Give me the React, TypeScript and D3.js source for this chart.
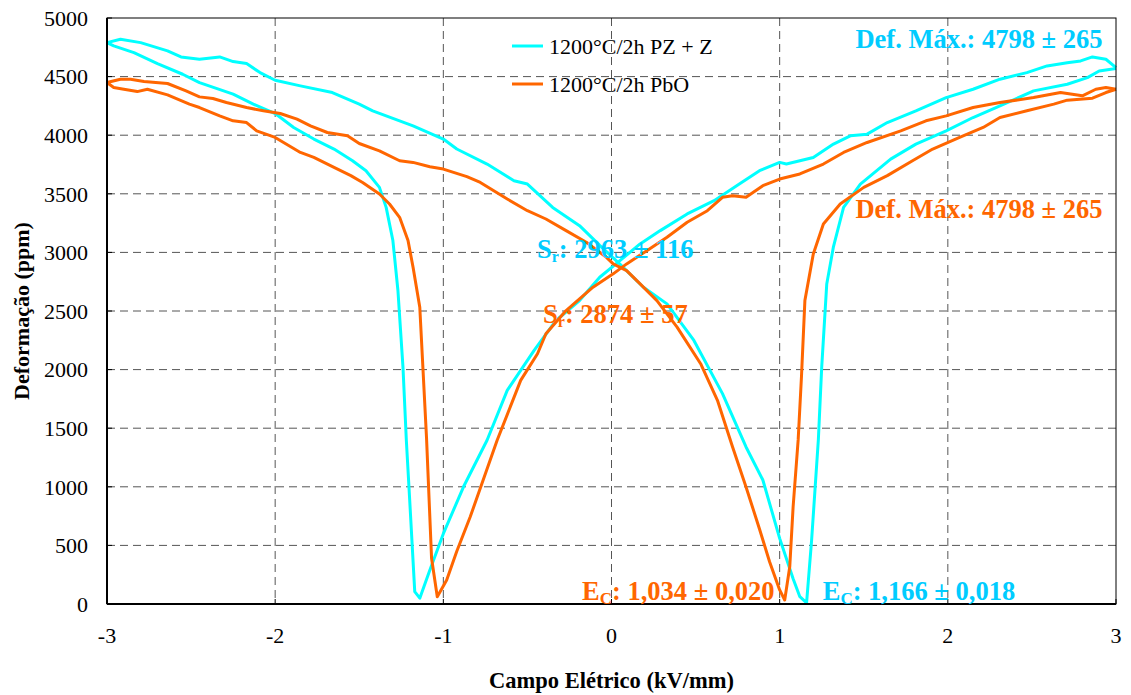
import * as d3 from 'd3';

// Butterfly loops as [field kV/mm, strain ppm]
// branch "down": field swept from +3 to -3; branch "up": from -3 to +3
const pzzDown: [number, number][] = [
  [3.0, 4577], [2.94, 4648], [2.86, 4668], [2.79, 4634], [2.71, 4619], [2.59, 4591],
  [2.47, 4534], [2.31, 4478], [2.15, 4392], [1.99, 4321], [1.81, 4208], [1.64, 4108],
  [1.52, 4009], [1.42, 3995], [1.32, 3924], [1.2, 3810], [1.04, 3754], [1.0, 3768],
  [0.88, 3697], [0.76, 3583], [0.61, 3441], [0.45, 3328], [0.29, 3186], [0.17, 3072],
  [0.05, 2930], [-0.07, 2788], [-0.19, 2589], [-0.33, 2419], [-0.46, 2164],
  [-0.62, 1823], [-0.74, 1397], [-0.88, 1000], [-1.0, 600], [-1.08, 290], [-1.14, 50],
  [-1.17, 105], [-1.2, 886], [-1.22, 1397], [-1.24, 2021], [-1.27, 2675], [-1.3, 3101],
  [-1.34, 3384], [-1.38, 3555], [-1.46, 3697], [-1.54, 3782], [-1.65, 3882],
  [-1.77, 3967], [-1.89, 4066], [-2.0, 4185], [-2.13, 4265], [-2.25, 4350],
  [-2.45, 4449], [-2.55, 4520], [-2.7, 4611], [-2.84, 4705], [-2.96, 4762], [-3.0, 4790],
];

const pzzUp: [number, number][] = [
  [-3.0, 4790], [-2.92, 4818], [-2.8, 4790], [-2.64, 4719], [-2.56, 4668], [-2.45, 4648],
  [-2.33, 4668], [-2.25, 4628], [-2.17, 4611], [-2.09, 4534], [-2.0, 4469], [-1.85, 4421],
  [-1.66, 4364], [-1.5, 4265], [-1.42, 4208], [-1.26, 4123], [-1.18, 4080], [-1.0, 3967],
  [-0.92, 3882], [-0.74, 3754], [-0.58, 3612], [-0.5, 3583], [-0.35, 3384], [-0.19, 3228],
  [-0.07, 3060], [0.05, 2900], [0.19, 2703], [0.33, 2561], [0.49, 2249], [0.66, 1795],
  [0.8, 1340], [0.9, 1058], [1.0, 560], [1.08, 215], [1.12, 62], [1.16, 10],
  [1.19, 546], [1.21, 973], [1.23, 1400], [1.25, 2021], [1.28, 2731], [1.32, 3050],
  [1.38, 3384], [1.48, 3583], [1.66, 3796], [1.81, 3924], [1.99, 4037], [2.15, 4151],
  [2.31, 4250], [2.51, 4378], [2.71, 4435], [2.83, 4491], [2.9, 4548], [3.0, 4570],
];

const pboDown: [number, number][] = [
  [3.0, 4392], [2.94, 4407], [2.88, 4392], [2.8, 4336], [2.67, 4364], [2.51, 4321],
  [2.31, 4279], [2.15, 4236], [1.99, 4165], [1.87, 4123], [1.72, 4037], [1.52, 3938],
  [1.38, 3853], [1.26, 3754], [1.12, 3669], [1.0, 3626], [0.9, 3569], [0.8, 3470],
  [0.72, 3484], [0.66, 3470], [0.57, 3356], [0.45, 3257], [0.33, 3129], [0.21, 3015],
  [0.09, 2902], [0.01, 2817], [-0.11, 2703], [-0.27, 2504], [-0.39, 2306],
  [-0.44, 2135], [-0.54, 1908], [-0.68, 1397], [-0.84, 744], [-0.92, 450], [-0.98, 204],
  [-1.036, 62], [-1.07, 390], [-1.1, 1420], [-1.14, 2532], [-1.18, 2873], [-1.21, 3101],
  [-1.26, 3299], [-1.32, 3413], [-1.38, 3498], [-1.48, 3597], [-1.55, 3655],
  [-1.65, 3725], [-1.77, 3810], [-1.85, 3853], [-2.0, 3981], [-2.11, 4037],
  [-2.17, 4108], [-2.25, 4123], [-2.33, 4165], [-2.45, 4236], [-2.51, 4265],
  [-2.64, 4344], [-2.76, 4392], [-2.82, 4372], [-2.9, 4392], [-2.96, 4407], [-3.0, 4449],
];

const pboUp: [number, number][] = [
  [-3.0, 4449], [-2.92, 4478], [-2.86, 4478], [-2.78, 4458], [-2.64, 4441], [-2.53, 4378],
  [-2.45, 4327], [-2.37, 4313], [-2.29, 4279], [-2.17, 4236], [-2.07, 4208], [-1.97, 4185],
  [-1.87, 4137], [-1.79, 4080], [-1.69, 4023], [-1.57, 3995], [-1.5, 3929], [-1.38, 3867],
  [-1.26, 3782], [-1.18, 3768], [-1.08, 3731], [-1.0, 3711], [-0.86, 3646], [-0.78, 3597],
  [-0.62, 3456], [-0.5, 3356], [-0.39, 3285], [-0.27, 3186], [-0.15, 3086], [-0.03, 2958],
  [0.01, 2902], [0.09, 2845], [0.17, 2732], [0.27, 2589], [0.39, 2362], [0.53, 2050],
  [0.63, 1738], [0.72, 1340], [0.8, 999], [0.88, 640], [0.94, 360], [1.0, 120],
  [1.03, 34], [1.06, 318], [1.08, 830], [1.11, 1400], [1.13, 1950], [1.15, 2589],
  [1.2, 2987], [1.26, 3243], [1.36, 3413], [1.5, 3555], [1.64, 3655], [1.79, 3782],
  [1.91, 3882], [2.07, 3981], [2.21, 4066], [2.31, 4151], [2.47, 4208], [2.63, 4265],
  [2.71, 4299], [2.86, 4316], [2.94, 4364], [3.0, 4392],
];

const xTicks = [-3, -2, -1, 0, 1, 2, 3];
const yTicks = [0, 500, 1000, 1500, 2000, 2500, 3000, 3500, 4000, 4500, 5000];
const seriesNames = ['1200°C/2h PZ + Z', '1200°C/2h PbO'];

const CYAN = '#00FFFF';
const CYAN_TXT = '#00CCFF';
const ORANGE = '#FF6600';
const FONT = '"Liberation Serif", "Times New Roman", serif';

const W = 1131;
const H = 695;
const left = 107, right = 1116, top = 18, bottom = 604;

export default function App() {
  const x = d3.scaleLinear().domain([-3, 3]).range([left, right]);
  const y = d3.scaleLinear().domain([0, 5000]).range([bottom, top]);
  const line = d3.line<[number, number]>().x(d => x(d[0])).y(d => y(d[1]));

  const curves = [
    { d: pzzDown, c: CYAN }, { d: pzzUp, c: CYAN },
    { d: pboDown, c: ORANGE }, { d: pboUp, c: ORANGE },
  ];

  const bold = { fontFamily: FONT, fontWeight: 700, fontSize: 26.5 } as const;

  return (
    <svg width={W} height={H} style={{ position: 'absolute', left: 0, top: 0, background: '#fff' }}>
      {/* grid */}
      {yTicks.filter(t => t > 0 && t < 5000).map(t => (
        <line key={'gy' + t} x1={left} x2={right} y1={y(t)} y2={y(t)}
          stroke="#555" strokeWidth={1} strokeDasharray="8,5" />
      ))}
      {xTicks.filter(t => t > -3 && t < 3).map(t => (
        <line key={'gx' + t} x1={x(t)} x2={x(t)} y1={top} y2={bottom}
          stroke="#555" strokeWidth={1} strokeDasharray="8,5" />
      ))}

      {/* ticks */}
      {yTicks.map(t => (
        <line key={'ty' + t} x1={left} x2={left + 5} y1={y(t)} y2={y(t)} stroke="#000" />
      ))}
      {xTicks.map(t => (
        <line key={'tx' + t} x1={x(t)} x2={x(t)} y1={bottom} y2={bottom - 5} stroke="#000" />
      ))}

      {/* curves */}
      {curves.map((s, i) => (
        <path key={i} d={line(s.d) || ''} fill="none" stroke={s.c} strokeWidth={3}
          strokeLinejoin="round" />
      ))}

      {/* frame */}
      <rect x={left} y={top} width={right - left} height={bottom - top}
        fill="none" stroke="#000" strokeWidth={1} />
      <line x1={left} x2={left} y1={top} y2={bottom} stroke="#000" strokeWidth={2} />
      <line x1={left} x2={right} y1={bottom} y2={bottom} stroke="#000" strokeWidth={2} />

      {/* tick labels */}
      {yTicks.map(t => (
        <text key={'ly' + t} x={left - 19} y={y(t)} dy="0.35em" textAnchor="end"
          fontFamily={FONT} fontSize={22}>{t}</text>
      ))}
      {xTicks.map(t => (
        <text key={'lx' + t} x={x(t)} y={643} textAnchor="middle"
          fontFamily={FONT} fontSize={22}>{t}</text>
      ))}

      {/* axis titles */}
      <text x={x(0)} y={688} textAnchor="middle" fontFamily={FONT} fontWeight={700} fontSize={22.5}>
        Campo Elétrico (kV/mm)
      </text>
      <text transform={`translate(29, ${y(2500)}) rotate(-90)`} textAnchor="middle"
        fontFamily={FONT} fontWeight={700} fontSize={22}>
        Deformação (ppm)
      </text>

      {/* legend */}
      {seriesNames.map((n, i) => (
        <g key={n} transform={`translate(512, ${46 + i * 38})`}>
          <line x1={0} x2={31} y1={0} y2={0} stroke={i === 0 ? CYAN : ORANGE} strokeWidth={3} />
          <text x={37} y={0} dy="0.35em" fontFamily={FONT} fontSize={22}>{n}</text>
        </g>
      ))}

      {/* annotations */}
      <text x={x(2.92)} y={y(4744)} textAnchor="end" fill={CYAN_TXT} {...bold}>
        Def. Máx.: 4798 ± 265
      </text>
      <text x={x(2.92)} y={y(3293)} textAnchor="end" fill={ORANGE} {...bold}>
        Def. Máx.: 4798 ± 265
      </text>
      <text x={x(-0.443)} y={y(2952)} fill={CYAN_TXT} {...bold}>
        S<tspan fontSize={16} dy={4}>r</tspan><tspan dy={-4}>: 2963 ± 116</tspan>
      </text>
      <text x={x(-0.407)} y={y(2397)} fill={ORANGE} {...bold}>
        S<tspan fontSize={16} dy={4}>r</tspan><tspan dy={-4}>: 2874 ± 57</tspan>
      </text>
      <text x={x(-0.175)} y={y(34)} fill={ORANGE} {...bold}>
        E<tspan fontSize={17} dy={4}>C</tspan><tspan dy={-4}>: 1,034 ± 0,020</tspan>
      </text>
      <text x={x(1.256)} y={y(34)} fill={CYAN_TXT} {...bold}>
        E<tspan fontSize={17} dy={4}>C</tspan><tspan dy={-4}>: 1,166 ± 0,018</tspan>
      </text>
    </svg>
  );
}
